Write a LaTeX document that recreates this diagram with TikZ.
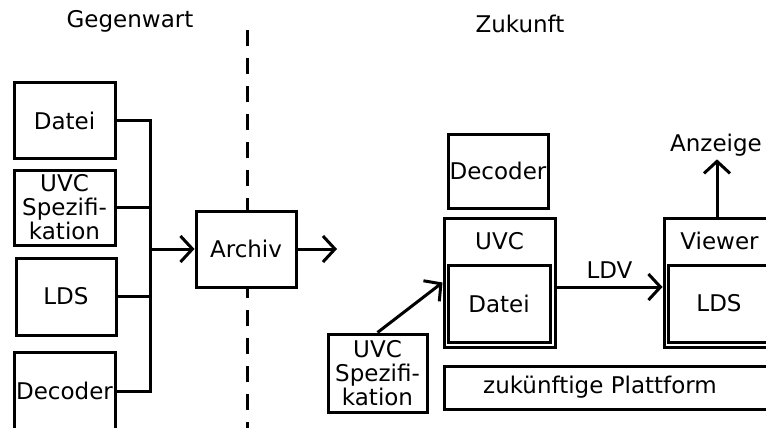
\documentclass[tikz,border=0pt]{standalone}
\usepackage{fontspec}
\setmainfont{DejaVu Sans}
\usetikzlibrary{arrows.meta,positioning}

\begin{document}
\begin{tikzpicture}
    [x=1pt,y=-1pt,
    font=\fontsize{23pt}{24pt}\selectfont,
    block/.style={rectangle,draw=black,line width=3pt,fill=white,
    inner sep=0pt,align=center},
    outer/.style={block,minimum width=111pt,minimum height=129pt},
    wire/.style={line width=3pt},
    flow/.style={wire,-{Straight Barb[length=12pt,width=26pt]}}]
    \useasboundingbox (0,0) rectangle (766,428);
    \clip (0,0) rectangle (766,428);
    % headings and border line
    \node[anchor=base] (now) at (130,28) {Gegenwart};
    \node[anchor=base] (future) at (520,33) {Zukunft};
    \coordinate (cuttop) at (247,30);
    \coordinate (cutbot) at (247,430);
    \draw[line width=3pt,dash pattern=on 16pt off 12pt] (cuttop) -- (cutbot);
    % present
    \node[block,minimum width=101pt,minimum height=75pt] (datei) at (64.5,120.5) {Datei};
    \node[block,minimum width=101pt,minimum height=75pt] (spez) at (64.5,207.5) {UVC\\Spezifi-\\kation};
    \node[block,minimum width=100pt,minimum height=77pt] (lds) at (66,296.5) {LDS};
    \node[block,minimum width=101pt,minimum height=78pt] (decoder) at (64.5,391) {Decoder};
    \node[block,minimum width=100pt,minimum height=76pt] (archiv) at (246,249) {Archiv};
    \coordinate (bus) at (150,391);
    \coordinate (out) at (337,249);
    \draw[wire] (datei.east) -| (bus) -- (decoder.east);
    \draw[wire] (spez.east) -- (spez.east -| bus);
    \draw[wire] (lds.east) -- (lds.east -| bus);
    \draw[flow] (bus |- archiv.west) -- (archiv.west);
    \draw[flow] (archiv.east) -- (out);
    % future
    \node[block,minimum width=100pt,minimum height=74pt] (decoder2) at (498,171) {Decoder};
    \node[outer,label={[anchor=center,yshift=-25pt]north:UVC}] (uvc) at (499.5,282.5) {};
    \node[block,minimum width=102pt,minimum height=77pt] (datei2) at (499,303.5) {Datei};
    \node[outer,label={[anchor=center,yshift=-24pt]north:Viewer}] (viewer) at (719.5,282.5) {};
    \node[block,minimum width=102pt,minimum height=77pt] (lds2) at (719,303.5) {LDS};
    \node[block,minimum width=99pt,minimum height=78pt] (spez2) at (377.5,373) {UVC\\Spezifi-\\kation};
    \node[block,minimum width=331pt,minimum height=43pt,
    label={[anchor=center,xshift=-9.5pt]center:zukünftige Plattform}] (platform) at (609.5,387.5) {};
    \node[inner sep=3pt] (anzeige) at (716,145) {Anzeige};
    \draw[flow] (spez2.north) -- (uvc.west);
    \draw[flow] ([yshift=-4.5pt]uvc.east) -- node[above=4pt] {LDV} ([yshift=-4.5pt]viewer.west);
    \draw[flow] ([xshift=-2.5pt]viewer.north) -- ([xshift=-2.5pt]viewer.north |- anzeige.south);
\end{tikzpicture}
\end{document}
